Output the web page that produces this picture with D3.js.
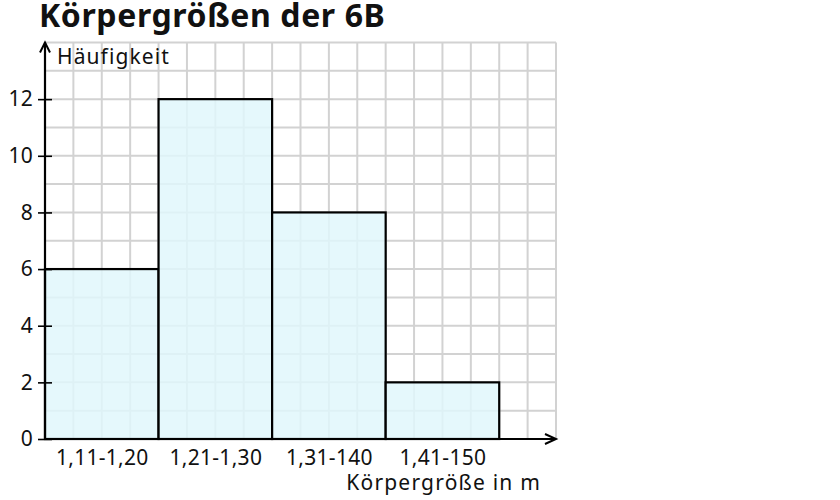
<!DOCTYPE html>
<html>
<head>
<meta charset="utf-8">
<script src="https://cdn.jsdelivr.net/npm/d3@7"></script>
<style>
  body { margin: 0; background: #fff; }
  text { font-family: "Noto Sans", "Open Sans", sans-serif; fill: #111; }
</style>
</head>
<body>
<div id="chart"></div>
<script>
const title = 'Körpergrößen der 6B';
const categories = ['1,11-1,20', '1,21-1,30', '1,31-140', '1,41-150'];
const counts = [6, 12, 8, 2];
const yTicks = [0, 2, 4, 6, 8, 10, 12];
const yLabel = 'Häufigkeit';
const xLabel = 'Körpergröße in m';

const w = 840, h = 500;
const svg = d3.select('#chart').append('svg')
  .attr('width', w)
  .attr('height', h);

// x in "bar units": each class is one unit wide, grid every quarter
const x = d3.scaleLinear().domain([0, 4.5]).range([45, 556]);
const y = d3.scaleLinear().domain([0, 14]).range([439, 42.5]);

// grid
const grid = svg.append('g').attr('stroke', '#d2d2d2').attr('stroke-width', 2);
grid.selectAll('.gx')
  .data(d3.range(1, 19).map(i => i / 4))
  .enter().append('line')
  .attr('x1', d => x(d)).attr('x2', d => x(d))
  .attr('y1', y(0)).attr('y2', y(14));
grid.selectAll('.gy')
  .data(d3.range(1, 15))
  .enter().append('line')
  .attr('x1', x(0)).attr('x2', x(4.5))
  .attr('y1', d => y(d)).attr('y2', d => y(d));

// bars
svg.selectAll('.bar')
  .data(counts)
  .enter().append('rect')
  .attr('x', (d, i) => x(i))
  .attr('y', d => y(d))
  .attr('width', x(1) - x(0))
  .attr('height', d => y(0) - y(d))
  .attr('fill', '#e0f7fc')
  .attr('fill-opacity', 0.85)
  .attr('stroke', '#000')
  .attr('stroke-width', 2.2);

// y axis
const yAxis = d3.axisLeft(y).tickValues(yTicks).tickSize(7).tickPadding(5);
const gy = svg.append('g').attr('transform', `translate(${x(0)},0)`).call(yAxis);
gy.select('.domain').remove();
gy.selectAll('.tick line').attr('x2', 7).attr('x1', -7).attr('stroke', '#000').attr('stroke-width', 1.6);
gy.selectAll('.tick text').attr('font-size', 21).attr('letter-spacing', 0.3)
  .attr('font-family', '"Noto Sans", sans-serif').attr('fill', '#111');

// x axis labels
const xAxis = d3.axisBottom(x).tickValues(categories.map((c, i) => i + 0.5))
  .tickFormat((d, i) => categories[i]).tickSize(0).tickPadding(11);
const gx = svg.append('g').attr('transform', `translate(0,${y(0)})`).call(xAxis);
gx.select('.domain').remove();
gx.selectAll('.tick text').attr('font-size', 21).attr('letter-spacing', 0.3)
  .attr('font-family', '"Noto Sans", sans-serif').attr('fill', '#111');

// axis lines with arrows
svg.append('line')
  .attr('x1', x(0)).attr('x2', x(0))
  .attr('y1', y(0) + 1).attr('y2', y(14))
  .attr('stroke', '#000').attr('stroke-width', 2.2);
svg.append('path')
  .attr('d', `M${x(0) - 5},${y(14) + 10} L${x(0)},${y(14)} L${x(0) + 5},${y(14) + 10}`)
  .attr('fill', 'none').attr('stroke', '#000').attr('stroke-width', 2);
svg.append('line')
  .attr('x1', x(0) - 1).attr('x2', x(4.5))
  .attr('y1', y(0)).attr('y2', y(0))
  .attr('stroke', '#000').attr('stroke-width', 2.2);
svg.append('path')
  .attr('d', `M${x(4.5) - 11},${y(0) - 5} L${x(4.5)},${y(0)} L${x(4.5) - 11},${y(0) + 5}`)
  .attr('fill', 'none').attr('stroke', '#000').attr('stroke-width', 2);

// labels
svg.append('text')
  .attr('x', 57).attr('y', 64)
  .attr('font-size', 21)
  .attr('letter-spacing', 1.1)
  .text(yLabel);
svg.append('text')
  .attr('x', 541).attr('y', 490)
  .attr('text-anchor', 'end')
  .attr('font-size', 21)
  .attr('letter-spacing', 1.2)
  .text(xLabel);
svg.append('text')
  .attr('x', 39).attr('y', 27)
  .attr('font-size', 32)
  .attr('font-weight', 'bold')
  .attr('letter-spacing', 0.6)
  .text(title);
</script>
</body>
</html>
